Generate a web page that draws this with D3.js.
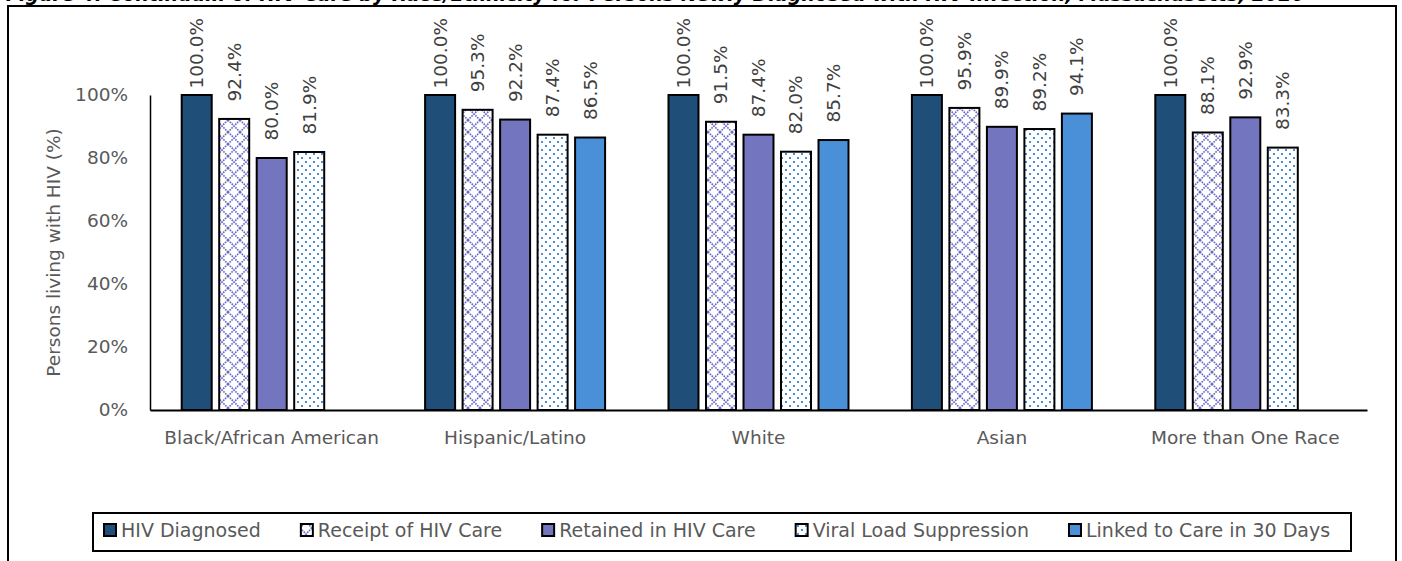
<!DOCTYPE html>
<html>
<head>
<meta charset="utf-8">
<script src="https://cdn.jsdelivr.net/npm/d3@7"></script>
<style>
  html, body { margin: 0; padding: 0; background: #fff; }
  svg { display: block; font-family: "DejaVu Sans", Verdana, sans-serif; }
</style>
</head>
<body>
<svg id="chart" width="1402" height="561"></svg>
<script>
// Continuum of HIV care by race/ethnicity (percent of persons living with HIV)
const categories = ["Black/African American", "Hispanic/Latino", "White", "Asian", "More than One Race"];
const seriesNames = ["HIV Diagnosed", "Receipt of HIV Care", "Retained in HIV Care", "Viral Load Suppression", "Linked to Care in 30 Days"];
const hivDiagnosed      = [100.0, 100.0, 100.0, 100.0, 100.0];
const receiptOfCare     = [92.4, 95.3, 91.5, 95.9, 88.1];
const retainedInCare    = [80.0, 92.2, 87.4, 89.9, 92.9];
const viralSuppression  = [81.9, 87.4, 82.0, 89.2, 83.3];
const linkedIn30Days    = [null, 86.5, 85.7, 94.1, null];
const yTickValues = [0, 20, 40, 60, 80, 100];
const titleText = "Figure 4. Continuum of HIV Care by Race/Ethnicity for Persons Newly Diagnosed with HIV Infection, Massachusetts, 2020";

const seriesValues = [hivDiagnosed, receiptOfCare, retainedInCare, viralSuppression, linkedIn30Days];

const svg = d3.select("#chart");

// Plot geometry
const plot = { left: 150, right: 1367, top: 95, bottom: 410 };
const textSize = 18.5;

const defs = svg.append("defs");
// Lattice hatch for "Receipt of HIV Care"
const lattice = defs.append("pattern")
  .attr("id", "lattice").attr("patternUnits", "userSpaceOnUse")
  .attr("width", 12).attr("height", 12);
lattice.append("rect").attr("width", 12).attr("height", 12).attr("fill", "#fff");
lattice.append("path").attr("d", "M0,0L12,12M12,0L0,12")
  .attr("stroke", "#6A6AC4").attr("stroke-width", 1.6)
  .attr("stroke-dasharray", "1.7,0.9").attr("fill", "none");
// Dot fill for "Viral Load Suppression"
const dots = defs.append("pattern")
  .attr("id", "dots").attr("patternUnits", "userSpaceOnUse")
  .attr("width", 8).attr("height", 8);
dots.append("rect").attr("width", 8).attr("height", 8).attr("fill", "#fff");
dots.append("rect").attr("x", 1).attr("y", 1).attr("width", 2).attr("height", 2).attr("fill", "#4A90D9");
dots.append("rect").attr("x", 5).attr("y", 5).attr("width", 2).attr("height", 2).attr("fill", "#4A90D9");

const fills = ["#1F4E79", "url(#lattice)", "#7475BF", "url(#dots)", "#4A90D9"];

// Title (runs off the top edge of the page)
svg.append("text")
  .attr("x", 6).attr("y", 1)
  .attr("font-size", 19).attr("font-weight", "bold").attr("font-style", "italic")
  .attr("fill", "#000")
  .text(titleText);

// Chart frame
svg.append("rect")
  .attr("x", 8).attr("y", 6).attr("width", 1388).attr("height", 600)
  .attr("fill", "none").attr("stroke", "#000").attr("stroke-width", 2);

// Scales
const x0 = d3.scaleBand().domain(categories).range([plot.left, plot.right]).padding(0);
const groupWidth = 180;
const x1 = d3.scaleBand().domain(seriesNames)
  .range([(x0.bandwidth() - groupWidth) / 2, (x0.bandwidth() + groupWidth) / 2])
  .paddingInner(0.2).paddingOuter(0);
const y = d3.scaleLinear().domain([0, 100]).range([plot.bottom, plot.top]);

// Axes
const yAxis = svg.append("g")
  .attr("transform", `translate(${plot.left},0)`)
  .call(d3.axisLeft(y).tickValues(yTickValues).tickFormat(d => d + "%").tickSize(0).tickSizeOuter(0).tickPadding(22));
yAxis.selectAll("text").attr("font-size", textSize).attr("fill", "#595959").attr("font-family", "DejaVu Sans, sans-serif");
yAxis.select(".domain").attr("stroke", "#000").attr("stroke-width", 1.5);

const xAxis = svg.append("g")
  .attr("transform", `translate(0,${plot.bottom})`)
  .call(d3.axisBottom(x0).tickSize(0).tickSizeOuter(0).tickPadding(21));
xAxis.selectAll("text").attr("font-size", textSize).attr("fill", "#595959").attr("font-family", "DejaVu Sans, sans-serif");
xAxis.select(".domain").attr("stroke", "#000").attr("stroke-width", 2);

// Y axis title
svg.append("text")
  .attr("transform", `translate(55,${(plot.top + plot.bottom) / 2}) rotate(-90)`)
  .attr("text-anchor", "middle").attr("dominant-baseline", "middle")
  .attr("font-size", textSize).attr("fill", "#595959")
  .text("Persons living with HIV (%)");

// Bars
const barData = [];
categories.forEach((c, ci) => {
  seriesNames.forEach((s, si) => {
    const v = seriesValues[si][ci];
    if (v !== null && v !== undefined) barData.push({ category: c, series: s, si, value: v });
  });
});

svg.append("g").attr("class", "bars")
  .selectAll("rect").data(barData).join("rect")
  .attr("x", d => x0(d.category) + x1(d.series))
  .attr("y", d => y(d.value))
  .attr("width", x1.bandwidth())
  .attr("height", d => y(0) - y(d.value))
  .attr("fill", d => fills[d.si])
  .attr("stroke", "#000").attr("stroke-width", 2);

// Value labels, rotated, kept inside the frame
const labelTop = 18;
svg.append("g").attr("class", "labels")
  .selectAll("text").data(barData).join("text")
  .attr("font-size", 18.5).attr("fill", "#404040")
  .attr("text-anchor", "start").attr("dy", "0.35em")
  .text(d => d.value.toFixed(1) + "%")
  .each(function (d) {
    const len = this.getComputedTextLength();
    const cx = x0(d.category) + x1(d.series) + x1.bandwidth() / 2;
    const start = Math.max(y(d.value) - 17.5, labelTop + len);
    d3.select(this).attr("transform", `translate(${cx},${start}) rotate(-90)`);
  });

// Legend
const legend = svg.append("g").attr("class", "legend");
legend.append("rect")
  .attr("x", 93).attr("y", 513).attr("width", 1258).attr("height", 38)
  .attr("fill", "#fff").attr("stroke", "#000").attr("stroke-width", 2);
let lx = 104;
const ly = 530;
seriesNames.forEach((s, i) => {
  legend.append("rect")
    .attr("x", lx).attr("y", ly - 6).attr("width", 12).attr("height", 12)
    .attr("fill", fills[i]).attr("stroke", "#000").attr("stroke-width", 2);
  const t = legend.append("text")
    .attr("x", lx + 17).attr("y", ly).attr("dy", "0.35em")
    .attr("font-size", 19).attr("fill", "#595959")
    .text(s);
  lx += 17 + t.node().getComputedTextLength() + 40;
});
</script>
</body>
</html>
